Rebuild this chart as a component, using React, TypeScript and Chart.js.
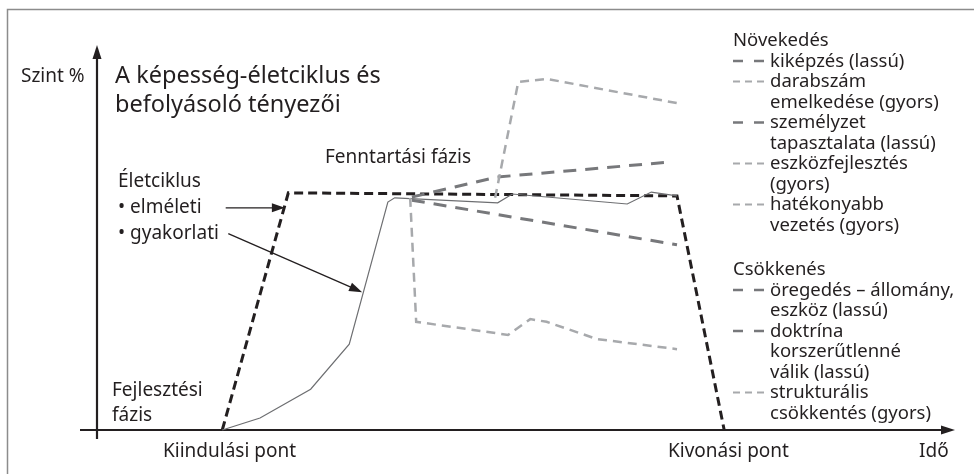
import React, { useEffect, useRef } from "react";
import { Chart, registerables } from "chart.js";

Chart.register(...registerables);

// ---- Data (x: time, 0..100 along the axis; y: capability level %, 0..100) ----
const theoreticalX = [14.6, 22.3, 67.6, 73.1];
const theoreticalY = [0, 61.6, 60.8, 0];

const practicalX = [14.6, 19.0, 24.9, 29.4, 33.9, 34.7, 46.7, 48.4, 61.8, 64.6, 67.6];
const practicalY = [0, 3.1, 10.6, 22.3, 59.2, 60.3, 59.0, 61.3, 58.7, 61.8, 60.8];

const trainingX = [36.7, 46.6, 66.8];
const trainingY = [60.5, 65.7, 69.6];

const quantityX = [46.4, 49.1, 52.4, 67.6];
const quantityY = [60.3, 90.4, 91.2, 84.9];

const agingX = [36.7, 67.6];
const agingY = [59.7, 48.1];

const structuralX = [36.5, 37.2, 47.9, 50.5, 52.4, 58.3, 67.6];
const structuralY = [60.3, 28.1, 24.7, 28.8, 28.1, 23.6, 21.0];

// annotation arrows [x1, y1, x2, y2] in data units
const arrowTheoretical = [15.0, 57.7, 21.9, 57.7];
const arrowPractical = [15.3, 51.0, 30.9, 35.8];

// ---- Texts ----
const yAxisTitle = "Szint %";
const xAxisTitle = "Idő";
const titleLines = ["A képesség-életciklus és", "befolyásoló tényezői"];
const startLabel = "Kiindulási pont";
const endLabel = "Kivonási pont";
const devPhase = ["Fejlesztési", "fázis"];
const maintPhase = "Fenntartási fázis";
const lifecycleLabels = ["Életciklus", "• elméleti", "• gyakorlati"];

const growthHeader = "Növekedés";
const growthItems = [
  { lines: ["kiképzés (lassú)"], speed: "slow" },
  { lines: ["darabszám", "emelkedése (gyors)"], speed: "fast" },
  { lines: ["személyzet", "tapasztalata (lassú)"], speed: "slow" },
  { lines: ["eszközfejlesztés", "(gyors)"], speed: "fast" },
  { lines: ["hatékonyabb", "vezetés (gyors)"], speed: "fast" },
];
const declineHeader = "Csökkenés";
const declineItems = [
  { lines: ["öregedés – állomány,", "eszköz (lassú)"], speed: "slow" },
  { lines: ["doktrína", "korszerűtlenné", "válik (lassú)"], speed: "slow" },
  { lines: ["strukturális", "csökkentés (gyors)"], speed: "fast" },
];

// ---- Styles ----
const FONT = '"Noto Sans", "Open Sans", sans-serif';
const INK = "#231f20";
const SLOW_COLOR = "#77787b";
const FAST_COLOR = "#a7a9ac";
const PRACTICAL_COLOR = "#6d6e71";
const SLOW_DASH = [13, 9];
const FAST_DASH = [9, 6];

const pts = (xs: number[], ys: number[]) => xs.map((x, i) => ({ x, y: ys[i] }));

function drawArrowHead(ctx: CanvasRenderingContext2D, x1: number, y1: number, x2: number, y2: number, len: number, half: number) {
  const a = Math.atan2(y2 - y1, x2 - x1);
  ctx.beginPath();
  ctx.moveTo(x2, y2);
  ctx.lineTo(x2 - len * Math.cos(a) + half * Math.sin(a), y2 - len * Math.sin(a) - half * Math.cos(a));
  ctx.lineTo(x2 - len * Math.cos(a) - half * Math.sin(a), y2 - len * Math.sin(a) + half * Math.cos(a));
  ctx.closePath();
  ctx.fill();
}

const decorPlugin = {
  id: "decor",
  beforeDatasetsDraw(chart: any) {
    const ctx: CanvasRenderingContext2D = chart.ctx;
    const { left, right, top, bottom } = chart.chartArea;
    ctx.save();
    // frame
    ctx.strokeStyle = "#8c8c8c";
    ctx.lineWidth = 1.5;
    ctx.beginPath();
    ctx.moveTo(7.5, 474);
    ctx.lineTo(7.5, 9.5);
    ctx.lineTo(974, 9.5);
    ctx.stroke();
    // axes
    ctx.strokeStyle = INK;
    ctx.fillStyle = INK;
    ctx.lineWidth = 2.2;
    ctx.beginPath();
    ctx.moveTo(left, bottom + 9);
    ctx.lineTo(left, top + 8);
    ctx.stroke();
    drawArrowHead(ctx, left, bottom, left, top, 14, 4.5);
    ctx.beginPath();
    ctx.moveTo(left - 17, bottom);
    ctx.lineTo(right - 8, bottom);
    ctx.stroke();
    drawArrowHead(ctx, left, bottom, right, bottom, 14, 4.5);
    ctx.restore();
  },
  afterDatasetsDraw(chart: any) {
    const ctx: CanvasRenderingContext2D = chart.ctx;
    const xs = chart.scales.x;
    const ys = chart.scales.y;
    ctx.save();
    // annotation arrows
    ctx.strokeStyle = INK;
    ctx.fillStyle = INK;
    ctx.lineWidth = 1.3;
    for (const a of [arrowTheoretical, arrowPractical]) {
      const x1 = xs.getPixelForValue(a[0]);
      const y1 = ys.getPixelForValue(a[1]);
      const x2 = xs.getPixelForValue(a[2]);
      const y2 = ys.getPixelForValue(a[3]);
      const ang = Math.atan2(y2 - y1, x2 - x1);
      ctx.beginPath();
      ctx.moveTo(x1, y1);
      ctx.lineTo(x2 - 8 * Math.cos(ang), y2 - 8 * Math.sin(ang));
      ctx.stroke();
      drawArrowHead(ctx, x1, y1, x2, y2, 13, 4.5);
    }

    // texts
    ctx.fillStyle = INK;
    ctx.textBaseline = "alphabetic";
    ctx.textAlign = "left";
    ctx.font = `19px ${FONT}`;
    ctx.fillText(yAxisTitle, 21, 82);
    ctx.font = `23.5px ${FONT}`;
    ctx.fillText(titleLines[0], 115, 83);
    ctx.fillText(titleLines[1], 115, 112);
    ctx.font = `19px ${FONT}`;
    ctx.fillText(maintPhase, 325, 163);
    ctx.fillText(lifecycleLabels[0], 118, 187);
    ctx.fillText(lifecycleLabels[1], 118, 213);
    ctx.fillText(lifecycleLabels[2], 118, 239);
    ctx.fillText(devPhase[0], 112, 396);
    ctx.fillText(devPhase[1], 112, 421);
    ctx.fillText(startLabel, 163, 457);
    ctx.fillText(endLabel, 668, 457);
    ctx.fillText(xAxisTitle, 919, 457);

    // legend
    const drawGroup = (header: string, items: { lines: string[]; speed: string }[], y0: number) => {
      const step = 20.5;
      ctx.fillStyle = INK;
      ctx.font = `18.5px ${FONT}`;
      ctx.fillText(header, 733, y0);
      let y = y0;
      for (const it of items) {
        y += step;
        const slow = it.speed === "slow";
        ctx.save();
        ctx.strokeStyle = slow ? SLOW_COLOR : FAST_COLOR;
        ctx.lineWidth = slow ? 2.6 : 2;
        ctx.setLineDash(slow ? [10, 11] : [7, 5]);
        ctx.beginPath();
        ctx.moveTo(733, y - 5.5);
        ctx.lineTo(765, y - 5.5);
        ctx.stroke();
        ctx.restore();
        it.lines.forEach((ln, k) => {
          if (k > 0) y += step;
          ctx.fillText(ln, 770, y);
        });
      }
    };
    drawGroup(growthHeader, growthItems, 46);
    drawGroup(declineHeader, declineItems, 275);
    ctx.restore();
  },
};

export default function App() {
  const ref = useRef<HTMLCanvasElement | null>(null);
  useEffect(() => {
    if (!ref.current) return;
    const chart = new Chart(ref.current, {
      type: "line",
      data: {
        datasets: [
          {
            label: "strukturális csökkentés (gyors)",
            data: pts(structuralX, structuralY),
            borderColor: FAST_COLOR,
            borderWidth: 2.5,
            borderDash: FAST_DASH,
          },
          {
            label: "darabszám emelkedése (gyors)",
            data: pts(quantityX, quantityY),
            borderColor: FAST_COLOR,
            borderWidth: 2.5,
            borderDash: FAST_DASH,
          },
          {
            label: "kiképzés (lassú)",
            data: pts(trainingX, trainingY),
            borderColor: SLOW_COLOR,
            borderWidth: 3,
            borderDash: SLOW_DASH,
          },
          {
            label: "öregedés – állomány, eszköz (lassú)",
            data: pts(agingX, agingY),
            borderColor: SLOW_COLOR,
            borderWidth: 3,
            borderDash: SLOW_DASH,
          },
          {
            label: "gyakorlati",
            data: pts(practicalX, practicalY),
            borderColor: PRACTICAL_COLOR,
            borderWidth: 1.2,
          },
          {
            label: "elméleti",
            data: pts(theoreticalX, theoreticalY),
            borderColor: INK,
            borderWidth: 3,
            borderDash: [9, 5],
          },
        ].map((d) => ({ ...d, pointRadius: 0, tension: 0, fill: false, clip: false as any })),
      },
      options: {
        responsive: false,
        animation: false,
        events: [],
        layout: { padding: { left: 97, right: 19, top: 45, bottom: 44 } },
        plugins: { legend: { display: false }, tooltip: { enabled: false }, title: { display: false } },
        scales: {
          x: { type: "linear", min: 0, max: 100, display: false },
          y: { type: "linear", min: 0, max: 100, display: false },
        },
      },
      plugins: [decorPlugin],
    });
    return () => chart.destroy();
  }, []);
  return (
    <div style={{ position: "fixed", left: 0, top: 0, width: 974, height: 474, background: "#fff" }}>
      <canvas ref={ref} width={974} height={474} style={{ width: 974, height: 474, display: "block" }} />
    </div>
  );
}
